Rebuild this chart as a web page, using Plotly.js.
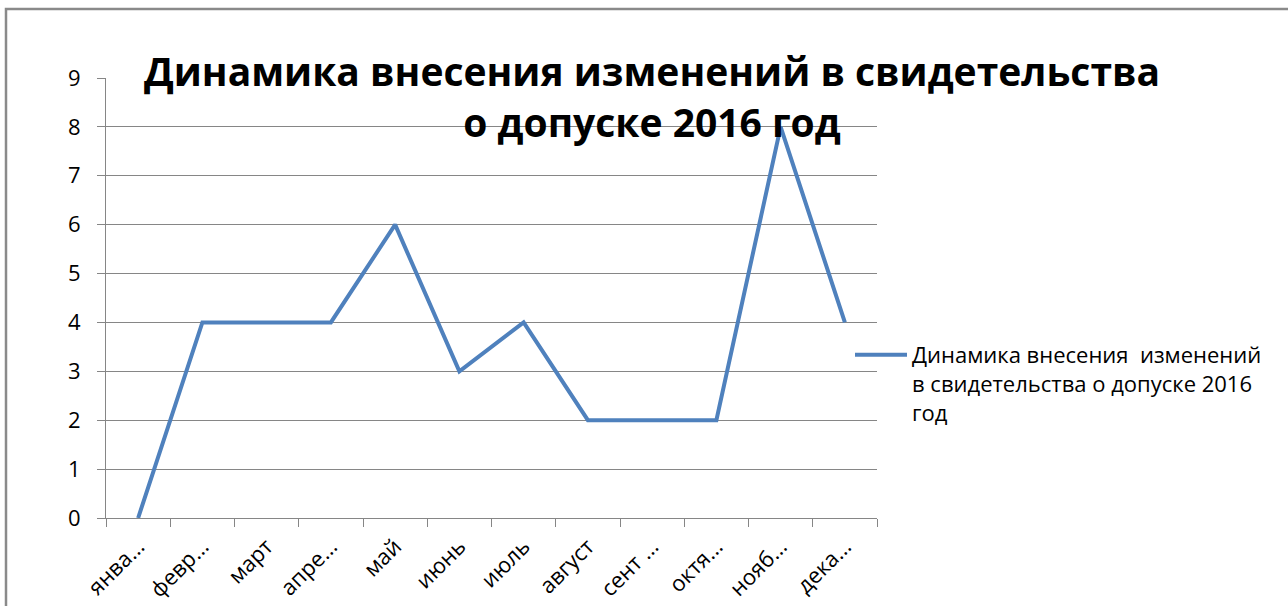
<!DOCTYPE html>
<html>
<head>
<meta charset="utf-8">
<script src="https://cdn.plot.ly/plotly-3.0.1.min.js"></script>
<style>html,body{margin:0;padding:0;background:#fff;}#chart{width:1288px;height:606px;}</style>
</head>
<body>
<div id="chart"></div>
<script>
const months = ["янва...", "февр...", "март", "апре...", "май", "июнь", "июль", "август", "сент ...", "октя...", "нояб...", "дека..."];
const values = [0, 4, 4, 4, 6, 3, 4, 2, 2, 2, 8, 4];
const seriesName = "Динамика внесения  изменений<br>в свидетельства о допуске 2016<br>год";
const chartTitle = "Динамика внесения изменений в свидетельства<br>о допуске 2016 год";

const font = "'Open Sans', 'Noto Sans', sans-serif";

const trace = {
  type: "scatter",
  mode: "lines",
  x: months,
  y: values,
  name: seriesName,
  line: {color: "#4F81BD", width: 4},
  showlegend: true
};

const layout = {
  width: 1288,
  height: 606,
  autosize: false,
  margin: {l: 106, r: 411, t: 78, b: 88},
  paper_bgcolor: "#ffffff",
  plot_bgcolor: "#ffffff",
  font: {family: font, color: "#000"},
  title: {
    text: chartTitle,
    font: {family: font, size: 39, color: "#000", weight: "bold"},
    x: 652 / 1288,
    xanchor: "center",
    y: 1 - 86 / 606,
    yanchor: "middle"
  },
  xaxis: {
    type: "category",
    tickson: "boundaries",
    ticks: "outside",
    ticklen: 8,
    tickcolor: "#868686",
    tickwidth: 1,
    showline: true,
    linecolor: "#868686",
    linewidth: 1,
    showgrid: false,
    tickangle: -45,
    ticklabelstandoff: 6,
    tickfont: {family: font, size: 22, color: "#000"},
    range: [-0.5, 11.5],
    fixedrange: true
  },
  yaxis: {
    range: [0, 9],
    dtick: 1,
    ticks: "outside",
    ticklen: 8,
    tickcolor: "#868686",
    tickwidth: 1,
    showline: true,
    linecolor: "#868686",
    linewidth: 1,
    showgrid: true,
    gridcolor: "#868686",
    gridwidth: 1,
    zeroline: false,
    ticklabelstandoff: 12,
    tickfont: {family: font, size: 22, color: "#000"},
    fixedrange: true
  },
  legend: {
    x: (850 - 106) / 771,
    xanchor: "left",
    y: (518 - 334) / 440,
    yanchor: "top",
    valign: "top",
    font: {family: font, size: 22, color: "#000"},
    bgcolor: "rgba(0,0,0,0)",
    itemwidth: 52
  },
  shapes: [{
    type: "rect",
    xref: "paper", yref: "paper",
    x0: (6 - 106) / 771, x1: (1320 - 106) / 771,
    y0: (518 - 640) / 440, y1: (518 - 9) / 440,
    line: {color: "#8a8a8a", width: 2.5},
    fillcolor: "rgba(0,0,0,0)",
    layer: "below"
  }]
};

Plotly.newPlot("chart", [trace], layout, {displayModeBar: false, staticPlot: true});
</script>
</body>
</html>
